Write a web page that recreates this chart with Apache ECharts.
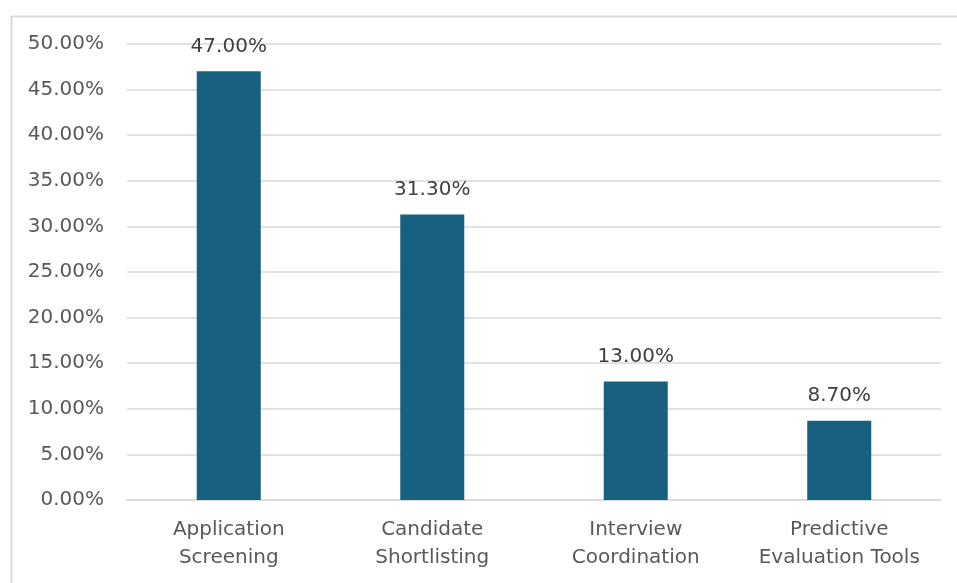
<!DOCTYPE html>
<html><head><meta charset="utf-8">
<script src="https://cdn.jsdelivr.net/npm/echarts@6/dist/echarts.min.js"></script>
<style>html,body{margin:0;padding:0;background:#fff}#c{width:957px;height:583px}</style>
</head><body><div id="c"></div>
<script>
const categories = ['Application\nScreening', 'Candidate\nShortlisting', 'Interview\nCoordination', 'Predictive\nEvaluation Tools'];
const values = [47.0, 31.3, 13.0, 8.7];
const yTicks = [0, 5, 10, 15, 20, 25, 30, 35, 40, 45, 50];

const FONT = '"DejaVu Sans", sans-serif';
const chart = echarts.init(document.getElementById('c'));
chart.setOption({
  animation: false,
  graphic: [{
    type: 'rect', left: 9, top: 14,
    shape: { width: 1000, height: 1000 },
    style: { fill: 'none', stroke: '#d9d9d9', lineWidth: 2 }
  }],
  grid: { left: 127, right: 16, top: 44, bottom: 83, containLabel: false },
  xAxis: {
    type: 'category', data: categories,
    axisLine: { lineStyle: { color: '#d9d9d9', width: 1.5 } },
    axisTick: { show: false },
    axisLabel: { interval: 0, hideOverlap: false, color: '#595959', fontSize: 20, fontFamily: FONT, lineHeight: 28, margin: 16 }
  },
  yAxis: {
    type: 'value', min: yTicks[0], max: yTicks[yTicks.length - 1], interval: 5,
    axisLine: { show: false }, axisTick: { show: false },
    splitLine: { lineStyle: { color: '#d9d9d9', width: 1.5 } },
    axisLabel: { color: '#595959', fontSize: 20, fontFamily: FONT, margin: 23,
      formatter: v => v.toFixed(2) + '%' }
  },
  series: [{
    type: 'bar', data: values, barWidth: 64,
    itemStyle: { color: '#17607F' },
    label: { show: true, position: 'top', distance: 15, color: '#404040', fontSize: 20, fontFamily: FONT,
      formatter: p => p.value.toFixed(2) + '%' }
  }]
});
</script></body></html>
